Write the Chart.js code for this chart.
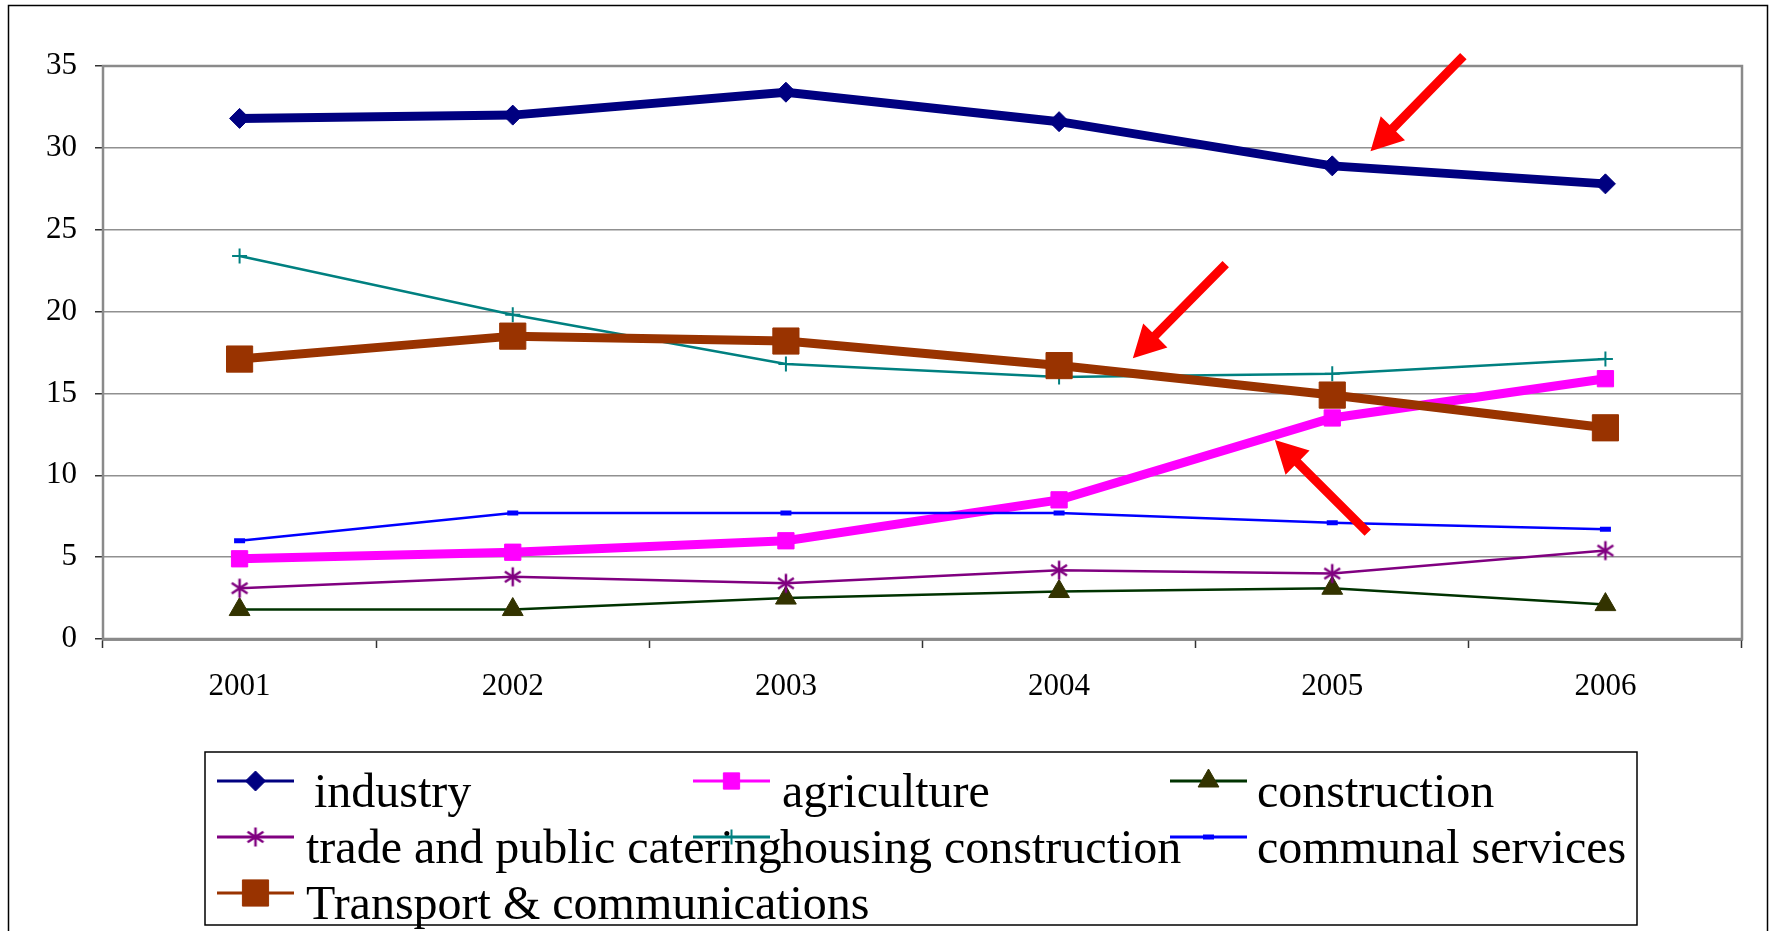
<!DOCTYPE html>
<html>
<head>
<meta charset="utf-8">
<title>Structure by sector, 2001-2006</title>
<script src="https://cdn.jsdelivr.net/npm/chart.js@4/dist/chart.umd.min.js"></script>
<style>
  html, body { margin: 0; padding: 0; background: #fff; }
  canvas { display: block; }
</style>
</head>
<body>
<canvas id="sectorChart" width="1772" height="931"></canvas>
<script>
  'use strict';

  // ===== data =====
  const years = ['2001', '2002', '2003', '2004', '2005', '2006'];
  const industry = [31.8, 32.0, 33.4, 31.6, 28.9, 27.8];
  const agriculture = [4.9, 5.3, 6.0, 8.5, 13.5, 15.9];
  const construction = [1.8, 1.8, 2.5, 2.9, 3.1, 2.1];
  const trade = [3.1, 3.8, 3.4, 4.2, 4.0, 5.4];
  const housing = [23.4, 19.8, 16.8, 16.0, 16.2, 17.1];
  const communal = [6.0, 7.7, 7.7, 7.7, 7.1, 6.7];
  const transport = [17.1, 18.5, 18.2, 16.7, 14.9, 12.9];

  const Y_MIN = 0;
  const Y_MAX = 35;
  const Y_STEP = 5;

  // red arrows, in data units (category index, value): tail -> tip
  const arrowTails = [[4.48, 35.6], [3.61, 22.9], [4.13, 6.5]];
  const arrowTips = [[4.14, 29.8], [3.27, 17.15], [3.79, 12.15]];

  const SERIF = "'Liberation Serif', 'Times New Roman', serif";

  // asterisk marker like the office one: vertical bar + an X
  function makeAsterisk(color, r, lw) {
    const c = document.createElement('canvas');
    const s = Math.ceil(r * 2 + lw * 2);
    c.width = s; c.height = s;
    const g = c.getContext('2d');
    const m = s / 2;
    g.strokeStyle = color;
    g.lineWidth = lw;
    g.beginPath();
    g.moveTo(m, m - r); g.lineTo(m, m + r);
    const dx = r * Math.sin(Math.PI / 3.2), dy = r * Math.cos(Math.PI / 3.2);
    g.moveTo(m - dx, m - dy); g.lineTo(m + dx, m + dy);
    g.moveTo(m + dx, m - dy); g.lineTo(m - dx, m + dy);
    g.stroke();
    return c;
  }

  function series(label, data, color, width, style, radius, extra) {
    return Object.assign({
      label,
      data,
      borderColor: color,
      backgroundColor: color,
      borderWidth: width,
      pointStyle: style,
      pointRadius: radius,
      pointBackgroundColor: color,
      pointBorderColor: color,
      pointBorderWidth: 1,
      tension: 0,
      fill: false
    }, extra || {});
  }

  const datasets = [
    series('industry', industry, '#000080', 9, 'rectRot', 10),
    series('agriculture', agriculture, '#FF00FF', 9, 'rect', 11.5),
    series('construction', construction, '#003300', 2.5, 'triangle', 12,
      { pointBackgroundColor: '#333300', pointBorderColor: '#333300' }),
    series('trade and public catering', trade, '#800080', 2.5, makeAsterisk('#800080', 9.5, 2.5), 9),
    series('housing construction', housing, '#008080', 2.5, 'cross', 7.5, { pointBorderWidth: 2 }),
    series('communal services', communal, '#0000FF', 2.5, 'line', 5.5, { pointBorderWidth: 5 }),
    series('Transport & communications', transport, '#993300', 9, 'rect', 18.5)
  ];
  // later series sit on top, as in the original
  datasets.forEach((d, i) => { d.order = datasets.length - i; });

  // ===== plugins =====
  const pageFrame = {
    id: 'pageFrame',
    beforeDraw(chart) {
      const ctx = chart.ctx;
      ctx.save();
      ctx.fillStyle = '#fff';
      ctx.fillRect(0, 0, chart.width, chart.height);
      ctx.restore();
    },
    beforeDatasetsDraw(chart) {
      const { ctx, chartArea: a } = chart;
      ctx.save();
      ctx.strokeStyle = '#8a8a8a';
      ctx.lineWidth = 2.5;
      ctx.strokeRect(a.left, a.top, a.right - a.left, a.bottom - a.top);
      ctx.restore();
    },
    afterDraw(chart) {
      const ctx = chart.ctx;
      ctx.save();
      ctx.strokeStyle = '#000';
      ctx.lineWidth = 1.5;
      ctx.strokeRect(8.5, 5.5, 1759, 960);
      ctx.restore();
    }
  };

  const redArrows = {
    id: 'redArrows',
    afterDatasetsDraw(chart) {
      const { ctx, scales } = chart;
      const shaft = 9, headW = 34, headL = 32;
      ctx.save();
      ctx.fillStyle = '#FF0000';
      arrowTails.forEach((tail, i) => {
        const tip = arrowTips[i];
        const x0 = scales.x.getPixelForValue(tail[0]);
        const y0 = scales.y.getPixelForValue(tail[1]);
        const x1 = scales.x.getPixelForValue(tip[0]);
        const y1 = scales.y.getPixelForValue(tip[1]);
        const ang = Math.atan2(y1 - y0, x1 - x0);
        const len = Math.hypot(x1 - x0, y1 - y0);
        ctx.save();
        ctx.translate(x0, y0);
        ctx.rotate(ang);
        ctx.beginPath();
        ctx.moveTo(0, -shaft / 2);
        ctx.lineTo(len - headL, -shaft / 2);
        ctx.lineTo(len - headL, -headW / 2);
        ctx.lineTo(len, 0);
        ctx.lineTo(len - headL, headW / 2);
        ctx.lineTo(len - headL, shaft / 2);
        ctx.lineTo(0, shaft / 2);
        ctx.closePath();
        ctx.fill();
        ctx.restore();
      });
      ctx.restore();
    }
  };

  // legend in a box, three columns, like the office chart
  const boxLegend = {
    id: 'boxLegend',
    afterDraw(chart) {
      const ctx = chart.ctx;
      const box = { l: 205, t: 752, r: 1637, b: 925 };
      const lineX = [217, 693, 1170];
      const textX = [306, 782, 1257];
      const textNudge = [8, 0, 0, 0, -2, 0, 0];
      const rowY = [781, 837, 893];
      const sampleLen = 77;

      ctx.save();
      ctx.strokeStyle = '#000';
      ctx.lineWidth = 1.5;
      ctx.strokeRect(box.l, box.t, box.r - box.l, box.b - box.t);

      ctx.font = '48px ' + SERIF;
      ctx.textAlign = 'left';
      ctx.textBaseline = 'alphabetic';

      chart.data.datasets.forEach((ds, i) => {
        const col = i % 3, row = Math.floor(i / 3);
        const y = rowY[row];
        const x = lineX[col];
        ctx.strokeStyle = ds.borderColor;
        ctx.lineWidth = 3;
        ctx.beginPath();
        ctx.moveTo(x, y);
        ctx.lineTo(x + sampleLen, y);
        ctx.stroke();

        ctx.fillStyle = ds.pointBackgroundColor;
        ctx.strokeStyle = ds.pointBorderColor;
        ctx.lineWidth = ds.pointBorderWidth;
        Chart.helpers.drawPoint(ctx, {
          pointStyle: ds.pointStyle,
          radius: ds.pointRadius,
          rotation: 0,
          borderWidth: ds.pointBorderWidth
        }, x + sampleLen / 2, y);

        ctx.fillStyle = '#000';
        ctx.fillText(ds.label, textX[col] + textNudge[i], y + 26);
      });
      ctx.restore();
    }
  };

  // ===== chart =====
  new Chart(document.getElementById('sectorChart'), {
    type: 'line',
    data: { labels: years, datasets },
    plugins: [pageFrame, redArrows, boxLegend],
    options: {
      responsive: false,
      animation: false,
      devicePixelRatio: 1,
      layout: { padding: { left: 10, top: 66, right: 30, bottom: 222 } },
      plugins: {
        legend: { display: false },
        tooltip: { enabled: false }
      },
      scales: {
        x: {
          offset: true,
          afterFit(scale) { scale.height = 70; },
          grid: {
            offset: true,
            drawOnChartArea: false,
            drawTicks: true,
            tickLength: 9,
            tickColor: '#333',
            tickWidth: 1.5
          },
          border: { display: true, color: '#222', width: 2.5 },
          ticks: {
            color: '#000',
            padding: 20,
            font: { family: SERIF, size: 31 },
            maxRotation: 0
          }
        },
        y: {
          min: Y_MIN,
          max: Y_MAX,
          afterFit(scale) { scale.width = 93; },
          grid: {
            color: '#909090',
            lineWidth: 1.5,
            tickLength: 8,
            tickColor: '#333',
            tickWidth: 1.5
          },
          border: { display: true, color: '#444', width: 2 },
          ticks: {
            stepSize: Y_STEP,
            color: '#000',
            padding: 18,
            font: { family: SERIF, size: 31 }
          }
        }
      }
    }
  });
</script>
</body>
</html>
